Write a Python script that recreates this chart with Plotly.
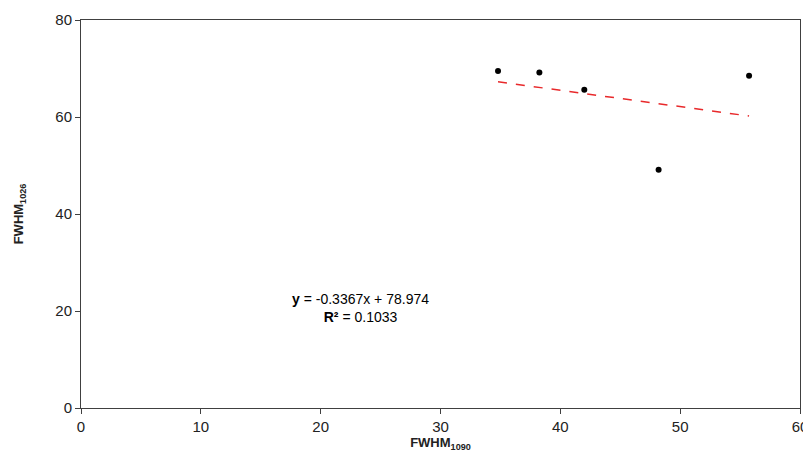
import numpy as np
import plotly.graph_objects as go

# data
fwhm_1090 = [34.8, 38.25, 42.0, 48.2, 55.75]
fwhm_1026 = [69.5, 69.2, 65.6, 49.1, 68.5]
slope = -0.3367
intercept = 78.974
r2 = 0.1033
x_ticks = [0, 10, 20, 30, 40, 50, 60]
y_ticks = [0, 20, 40, 60, 80]

xs = np.array([min(fwhm_1090), max(fwhm_1090)])
ys = slope * xs + intercept

font = "Liberation Sans, Arial, sans-serif"

fig = go.Figure()
fig.add_trace(go.Scatter(x=xs, y=ys, mode="lines",
                         line=dict(color="#e8292b", width=1.5, dash="dash"),
                         showlegend=False, hoverinfo="skip"))
fig.add_trace(go.Scatter(x=fwhm_1090, y=fwhm_1026, mode="markers",
                         marker=dict(color="black", size=6),
                         showlegend=False))

fig.add_annotation(x=23.3, y=20.7, xref="x", yref="y", showarrow=False,
                   text=f"<b>y</b> = {slope}x + {intercept}<br><b>R²</b> = {r2}",
                   font=dict(family=font, size=14, color="black"), align="center")

axis_common = dict(showline=True, linecolor="#404040", linewidth=1, mirror=True,
                   ticks="outside", ticklen=5, tickcolor="#404040",
                   showgrid=False, zeroline=False, automargin=False,
                   tickfont=dict(family=font, size=15, color="#222"))

fig.update_xaxes(range=[0, 60], tickvals=x_ticks, **axis_common,
                 title=dict(text="<b>FWHM<sub>1090</sub></b>", standoff=5,
                            font=dict(family=font, size=13, color="#222")))
fig.update_yaxes(range=[0, 80], tickvals=y_ticks, **axis_common,
                 title=dict(text="<b>FWHM<sub>1026</sub></b>", standoff=28,
                            font=dict(family=font, size=13, color="#222")))

fig.update_layout(width=808, height=444, plot_bgcolor="white", paper_bgcolor="white",
                  margin=dict(l=73, r=16, t=12, b=44))

fig.write_html("out.html")
